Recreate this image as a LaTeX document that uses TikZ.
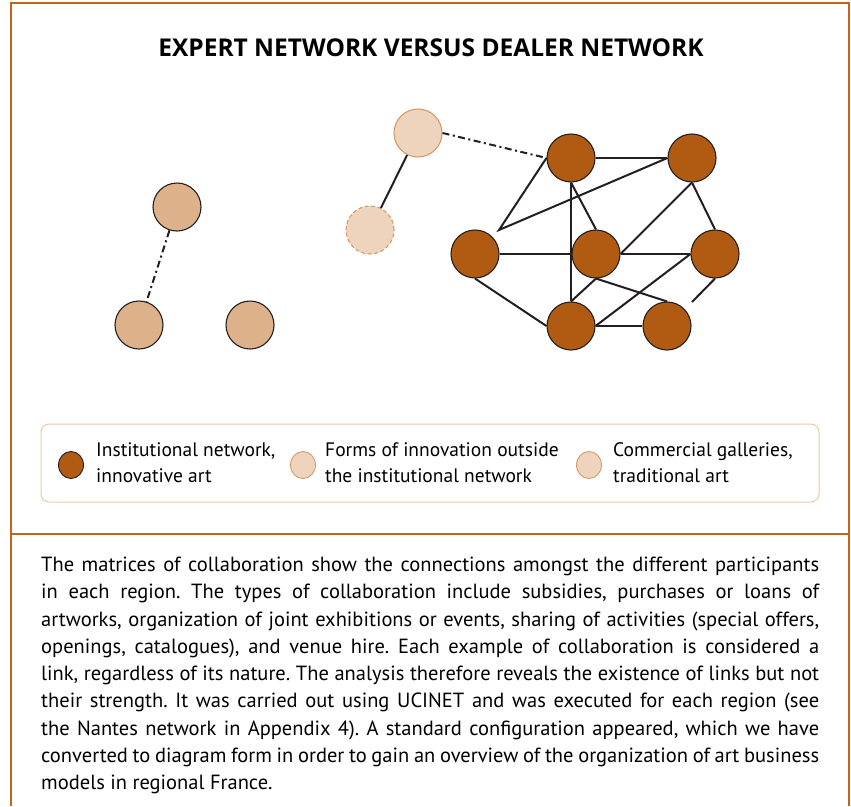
\documentclass[tikz,border=0pt]{standalone}
\usepackage{fontspec}
\setmainfont{PT Sans}
\newfontfamily\titlefont{Open Sans}
\usetikzlibrary{shapes.geometric}
\definecolor{frameor}{HTML}{C4631C}
\definecolor{netbrown}{HTML}{B05A12}
\definecolor{galtan}{HTML}{DDB18A}
\definecolor{lightin}{HTML}{EED4BD}
\definecolor{lightedge}{HTML}{D39B6A}
\definecolor{legedge}{HTML}{EBC9A8}
\definecolor{ink}{HTML}{231F20}
\frenchspacing
\begin{document}
\begin{tikzpicture}[x=1pt,y=-1pt,
  netnode/.style={circle, draw=ink, fill=netbrown, minimum size=48pt, inner sep=0pt, line width=1.1pt},
  galnode/.style={circle, draw=ink, fill=galtan, minimum size=48pt, inner sep=0pt, line width=1.1pt},
  innode/.style={circle, draw=lightedge, fill=lightin, minimum size=48pt, inner sep=0pt, line width=1.1pt},
  indashed/.style={innode, dash pattern=on 4pt off 2.5pt},
  link/.style={draw=ink, line width=2pt},
  dashdotlink/.style={link, dash pattern=on 7pt off 3.5pt on 2pt off 3.5pt},
  legdot/.style={ellipse, minimum width=25pt, minimum height=27pt, inner sep=0pt, line width=0.9pt},
  legtext/.style={anchor=west, align=left, inner sep=0pt, font=\fontsize{19.5}{26}\selectfont},
  frame/.style={draw=frameor, line width=1.5pt}
]
\useasboundingbox (0,0) rectangle (851,806);
% frame
\draw[frame] (11,806) -- (11,3) -- (849,3) -- (849,806);
\draw[frame] (11,534) -- (849,534);
% title
\node[font=\titlefont\bfseries\fontsize{24.5}{28}\selectfont] (title) at (431,48) {EXPERT NETWORK VERSUS DEALER NETWORK};
% left group
\node[galnode] (g1) at (177,207) {};
\node[galnode] (g2) at (139,325) {};
\node[galnode] (g3) at (250,325) {};
\draw[dashdotlink] (g1) -- (g2);
% middle group
\node[innode] (i1) at (418,133) {};
\node[indashed] (i2) at (370,230) {};
\draw[link] (i1) -- (i2);
% network
\node[netnode] (A) at (571,158) {};
\node[netnode] (B) at (692,158) {};
\node[netnode] (C) at (475,254) {};
\node[netnode] (D) at (596,254) {};
\node[netnode] (E) at (715,254) {};
\node[netnode] (F) at (571,326) {};
\node[netnode] (G) at (667,326) {};
\coordinate (cfree) at (499,230);
\coordinate (efree) at (692,302);
\draw[dashdotlink] (i1.east) -- (A.west);
\draw[link] (A) -- (B);
\draw[link] (A.west) -- (cfree) -- (B.west);
\draw[link] (A) -- (F);
\draw[link] (A.south) -- (D.north);
\draw[link] (B.south) -- (D.east);
\draw[link] (B.south) -- (E.north);
\draw[link] (C) -- (D);
\draw[link] (D) -- (E);
\draw[link] (C.south) -- (F.west);
\draw[link] (D.south) -- (F.north);
\draw[link] (D.south) -- (G.north);
\draw[link] (E.west) -- (F.east);
\draw[link] (F) -- (G);
\draw[link] (E.south) -- (efree);
% legend
\draw[draw=legedge, line width=1pt, rounded corners=8pt] (41,424) rectangle (819,502);
\node[legdot, draw=ink, fill=netbrown] (l1) at (71,465) {};
\node[legtext] (t1) at (96,463) {Institutional network,\\innovative art};
\node[legdot, draw=lightedge, fill=lightin] (l2) at (303,465) {};
\node[legtext] (t2) at (325,463) {Forms of innovation outside\\the institutional network};
\node[legdot, draw=lightedge, fill=lightin] (l3) at (589,465) {};
\node[legtext] (t3) at (613,463) {Commercial galleries,\\traditional art};
% body text
\node[anchor=north west, text width=778pt, inner sep=0pt, align=justify, font=\fontsize{20.5}{27.25}\selectfont] (body) at (41,557) {The matrices of collaboration show the connections amongst the different participants\linebreak
in each region. The types of collaboration include subsidies, purchases or loans of\linebreak
artworks, organization of joint exhibitions or events, sharing of activities (special offers,\linebreak
openings, catalogues), and venue hire. Each example of collaboration is considered a\linebreak
link, regardless of its nature. The analysis therefore reveals the existence of links but not\linebreak
their strength. It was carried out using UCINET and was executed for each region (see\linebreak
the Nantes network in Appendix 4). A standard configuration appeared, which we have\linebreak
converted to diagram form in order to gain an overview of the organization of art business\linebreak
models in regional France.};
\end{tikzpicture}
\end{document}
